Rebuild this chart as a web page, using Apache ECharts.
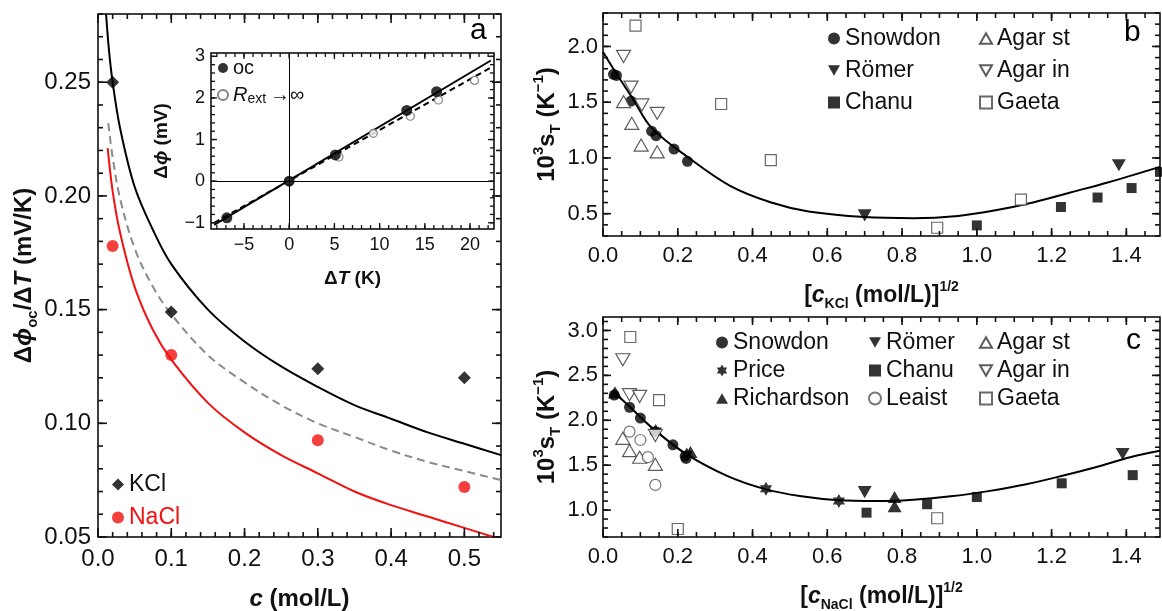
<!DOCTYPE html>
<html>
<head>
<meta charset="utf-8">
<script src="https://cdn.jsdelivr.net/npm/echarts@6/dist/echarts.min.js"></script>
<style>
  html, body { margin: 0; padding: 0; background: #fff; }
  #chart { width: 1162px; height: 611px; }
</style>
</head>
<body>
<div id="chart"></div>
<script>
// ---------- Panel a: Seebeck response vs. concentration ----------
const kclPoints  = [[0.02, 0.250], [0.1, 0.149], [0.3, 0.124], [0.5, 0.120]];
const naclPoints = [[0.02, 0.178], [0.1, 0.130], [0.3, 0.0925], [0.5, 0.072]];
const kclCurve = [[0.011, 0.280], [0.015, 0.264], [0.02, 0.250], [0.03, 0.230], [0.05, 0.204],
  [0.075, 0.185], [0.1, 0.170], [0.15, 0.150], [0.2, 0.136], [0.25, 0.125], [0.3, 0.116],
  [0.35, 0.108], [0.4, 0.102], [0.45, 0.096], [0.5, 0.091], [0.55, 0.086]];
const modelCurve = [[0.014, 0.232], [0.02, 0.217], [0.03, 0.199], [0.05, 0.177], [0.075, 0.160],
  [0.1, 0.148], [0.15, 0.130], [0.2, 0.118], [0.25, 0.108], [0.3, 0.100], [0.35, 0.094],
  [0.4, 0.088], [0.45, 0.083], [0.5, 0.079], [0.55, 0.075]];
const naclCurve = [[0.0132, 0.221], [0.02, 0.202], [0.03, 0.184], [0.05, 0.160], [0.075, 0.141],
  [0.1, 0.128], [0.15, 0.109], [0.2, 0.096], [0.25, 0.086], [0.3, 0.078], [0.35, 0.070],
  [0.4, 0.064], [0.45, 0.059], [0.5, 0.054], [0.55, 0.049]];
const aXTicks = [0, 0.1, 0.2, 0.3, 0.4, 0.5];
const aYTicks = [0.05, 0.10, 0.15, 0.20, 0.25];

// ---------- Inset: potential difference vs. temperature difference ----------
const ocPoints   = [[-6.9, -0.88], [0, 0], [5.1, 0.63], [13.0, 1.70], [16.3, 2.15]];
const rextPoints = [[0, 0], [5.5, 0.58], [9.3, 1.15], [13.4, 1.56], [16.5, 1.95], [20.5, 2.42]];
const ocLine   = [[-8.3, -1.05], [22.3, 2.90]];
const rextLine = [[-8.3, -1.00], [22.3, 2.73]];
const insetXTicks = [-5, 0, 5, 10, 15, 20];
const insetYTicks = [-1, 0, 1, 2, 3];

// ---------- Panel b: KCl Soret coefficient ----------
const snowdonB = [[0.028, 1.75], [0.036, 1.74], [0.075, 1.51], [0.13, 1.24], [0.142, 1.20], [0.19, 1.08], [0.226, 0.97]];
const romerB   = [[0.70, 0.485], [1.38, 0.935]];
const chanuB   = [[1.0, 0.395], [1.225, 0.56], [1.323, 0.645], [1.414, 0.73], [1.49, 0.875]];
const agarStB  = [[0.055, 1.505], [0.077, 1.31], [0.102, 1.115], [0.145, 1.055]];
const agarInB  = [[0.055, 1.91], [0.075, 1.635], [0.104, 1.475], [0.145, 1.40]];
const gaetaB   = [[0.087, 2.186], [0.316, 1.484], [0.449, 0.98], [0.894, 0.374], [1.118, 0.626]];
const curveB = [[0, 1.95], [0.037, 1.75], [0.08, 1.53], [0.13, 1.27], [0.23, 1.00], [0.34, 0.75],
  [0.45, 0.60], [0.55, 0.52], [0.70, 0.47], [0.83, 0.46], [0.95, 0.48], [1.05, 0.53],
  [1.15, 0.60], [1.25, 0.69], [1.35, 0.78], [1.49, 0.92]];
const bcXTicks = [0, 0.2, 0.4, 0.6, 0.8, 1.0, 1.2, 1.4];
const bYTicks = [0.5, 1.0, 1.5, 2.0];

// ---------- Panel c: NaCl Soret coefficient ----------
const snowdonC = [[0.03, 2.28], [0.071, 2.145], [0.10, 2.025], [0.14, 1.873], [0.187, 1.727], [0.22, 1.60], [0.222, 1.575]];
const priceC   = [[0.141, 1.88], [0.224, 1.62], [0.436, 1.236], [0.631, 1.10]];
const richC    = [[0.032, 2.31], [0.234, 1.647], [0.78, 1.145], [0.78, 1.044]];
const romerC   = [[0.70, 1.20], [1.39, 1.625]];
const chanuC   = [[0.705, 0.971], [0.867, 1.065], [1.0, 1.145], [1.227, 1.298], [1.417, 1.389]];
const agarStC  = [[0.053, 1.80], [0.071, 1.662], [0.098, 1.589], [0.14, 1.509]];
const agarInC  = [[0.053, 2.673], [0.071, 2.284], [0.098, 2.265], [0.14, 1.83]];
const leaistC  = [[0.071, 1.873], [0.10, 1.78], [0.12, 1.589], [0.14, 1.28]];
const gaetaC   = [[0.073, 2.927], [0.15, 2.225], [0.20, 0.789], [0.894, 0.909]];
const curveC = [[0.025, 2.33], [0.073, 2.145], [0.133, 1.91], [0.222, 1.625], [0.332, 1.38],
  [0.431, 1.236], [0.531, 1.153], [0.631, 1.109], [0.73, 1.10], [0.83, 1.116], [0.93, 1.153],
  [1.031, 1.211], [1.129, 1.284], [1.229, 1.382], [1.33, 1.491], [1.41, 1.589], [1.49, 1.66]];
const cYTicks = [1.0, 1.5, 2.0, 2.5, 3.0];

// ---------- helpers ----------
const FONT = "'Liberation Sans', Arial, Helvetica, sans-serif";
const MINUS = '\u2212';

function steps(from, to, step) {
  const out = [];
  for (let i = 0; ; i++) {
    const v = +(from + i * step).toFixed(6);
    if (v > to + 1e-9) break;
    out.push(v);
  }
  return out;
}

const titleRich = (size) => ({
  b: { fontFamily: FONT, fontWeight: 'bold', fontSize: size, color: '#111', lineHeight: size + 8 },
  i: { fontFamily: FONT, fontWeight: 'bold', fontStyle: 'italic', fontSize: size, color: '#111', lineHeight: size + 8 },
  s: { fontFamily: FONT, fontWeight: 'bold', fontSize: Math.round(size * 0.62), color: '#111', verticalAlign: 'bottom' },
  p: { fontFamily: FONT, fontWeight: 'bold', fontSize: Math.round(size * 0.62), color: '#111', verticalAlign: 'top' }
});

// plot frames are drawn as grid borders
const grids = [
  { left: 98,  top: 14,  width: 403, height: 523 },   // a
  { left: 211, top: 53,  width: 283, height: 176 },   // inset
  { left: 603, top: 13,  width: 557, height: 223 },   // b
  { left: 603, top: 317, width: 557, height: 220 }    // c
].map(g => Object.assign({ containLabel: false, outerBoundsMode: 'none', show: true,
  borderColor: '#000', borderWidth: 1.5, backgroundColor: 'transparent' }, g));

const axisSpecs = [
  {
    x: { min: 0, max: 0.55, major: aXTicks, minor: steps(0, 0.55, 0.02), fmt: v => v.toFixed(1),
         font: 24, margin: 10, len: [9, 5],
         name: '{i|c}{b| (mol/L)}', nameGap: 46, titleSize: 24 },
    y: { min: 0.05, max: 0.28, major: aYTicks, minor: steps(0.05, 0.28, 0.01), fmt: v => v.toFixed(2),
         font: 24, margin: 7, len: [9, 5],
         name: '{b|Δ}{i|ϕ}{s|oc}{b|/Δ}{i|T}{b| (mV/K)}', nameGap: 56, titleSize: 24 }
  },
  {
    x: { min: -8.65, max: 22.65, major: insetXTicks, minor: steps(-8, 22, 1),
         fmt: v => (v < 0 ? MINUS + Math.abs(v) : String(v)),
         font: 18, margin: 7, len: [6, 4],
         name: '{b|Δ}{i|T}{b| (K)}', nameGap: 36, titleSize: 19 },
    y: { min: -1.15, max: 3.08, major: insetYTicks, minor: steps(-1, 3, 0.2),
         fmt: v => (v < 0 ? MINUS + Math.abs(v) : String(v)),
         font: 18, margin: 6, len: [6, 4],
         name: '{b|Δ}{i|ϕ}{b| (mV)}', nameGap: 36, titleSize: 19 }
  },
  {
    x: { min: 0, max: 1.49, major: bcXTicks, minor: steps(0, 1.49, 0.05), fmt: v => v.toFixed(1),
         font: 22, margin: 9, len: [8, 5],
         name: '{b|[}{i|c}{s|KCl}{b| (mol/L)]}{p|1/2}', nameGap: 44, titleSize: 23 },
    y: { min: 0.3, max: 2.3, major: bYTicks, minor: steps(0.3, 2.3, 0.1), fmt: v => v.toFixed(1),
         font: 22, margin: 5, len: [8, 5],
         name: '{b|10}{p|3}{b|s}{s|T}{b| (K}{p|−1}{b|)}', nameGap: 36, titleSize: 24 }
  },
  {
    x: { min: 0, max: 1.49, major: bcXTicks, minor: steps(0, 1.49, 0.05), fmt: v => v.toFixed(1),
         font: 22, margin: 9, len: [8, 5],
         name: '{b|[}{i|c}{s|NaCl}{b| (mol/L)]}{p|1/2}', nameGap: 44, titleSize: 23 },
    y: { min: 0.7, max: 3.15, major: cYTicks, minor: steps(0.7, 3.15, 0.1), fmt: v => v.toFixed(1),
         font: 22, margin: 5, len: [8, 5],
         name: '{b|10}{p|3}{b|s}{s|T}{b| (K}{p|−1}{b|)}', nameGap: 36, titleSize: 24 }
  }
];

function makeAxis(gridIndex, r, isY) {
  return {
    type: 'value', gridIndex, position: isY ? 'left' : 'bottom', min: r.min, max: r.max,
    axisLine: { show: false, onZero: false },
    axisTick: { show: false },
    minorTick: { show: false },
    splitLine: { show: false },
    axisLabel: { show: true, customValues: r.major, formatter: r.fmt, fontSize: r.font,
                 fontFamily: FONT, color: '#111', margin: r.margin },
    name: r.name, nameLocation: 'middle', nameGap: r.nameGap, nameRotate: isY ? 90 : 0,
    nameTextStyle: { rich: titleRich(r.titleSize) },
    silent: true
  };
}

const xAxes = axisSpecs.map((s, g) => makeAxis(g, s.x, false));
const yAxes = axisSpecs.map((s, g) => makeAxis(g, s.y, true));

const ax = g => ({ xAxisIndex: g, yAxisIndex: g });

// marker shapes
const hexagram = 'path://M0,-10 L2.89,-5 L8.66,-5 L5.77,0 L8.66,5 L2.89,5 L0,10 L-2.89,5 L-8.66,5 L-5.77,0 L-8.66,-5 L-2.89,-5 Z';
const triUp   = 'path://M5,0 L10,8.66 L0,8.66 Z';
const triDown = 'path://M0,0 L10,0 L5,8.66 Z';
const filled = (symbol, size) => ({ symbol, symbolSize: size, symbolKeepAspect: true,
  itemStyle: { color: '#000', borderWidth: 0 } });
const hollow = (symbol, size, edge) => ({ symbol, symbolSize: size, symbolKeepAspect: true,
  itemStyle: { color: '#fff', borderColor: edge || '#333', borderWidth: 1.2 } });

function scatter(name, g, data, style, z) {
  return Object.assign({ type: 'scatter', name, data, z: z || 3, silent: true, clip: false, animation: false }, ax(g), style);
}
function curve(name, g, data, color, width, dash, smooth) {
  return Object.assign({ type: 'line', name, data, showSymbol: false, smooth: smooth === undefined ? 0.35 : smooth,
    lineStyle: { color, width, type: dash || 'solid' }, z: 2, silent: true, animation: false, clip: true }, ax(g));
}

const series = [
  // panel a
  curve('kclFit', 0, kclCurve, '#000', 2),
  curve('modelFit', 0, modelCurve, '#8a8a8a', 2, [8, 5]),
  curve('naclFit', 0, naclCurve, '#f21010', 2),
  scatter('KCl', 0, kclPoints, filled('diamond', 13)),
  scatter('NaCl', 0, naclPoints, { symbol: 'circle', symbolSize: 12, itemStyle: { color: '#f21010' } }),
  // inset
  curve('ocLine', 1, ocLine, '#000', 2, 'solid', false),
  curve('rextLine', 1, rextLine, '#000', 2, [6, 4], false),
  Object.assign(scatter('oc', 1, ocPoints, filled('circle', 11), 4), {
    markLine: { silent: true, symbol: ['none', 'none'], label: { show: false },
      lineStyle: { color: '#000', width: 1, type: 'solid' }, animation: false,
      data: [{ xAxis: 0 }, { yAxis: 0 }] }
  }),
  scatter('rext', 1, rextPoints, hollow('circle', 8, '#666'), 3),
  // panel b
  curve('fitB', 2, curveB, '#000', 2),
  scatter('Snowdon', 2, snowdonB, filled('circle', 11)),
  scatter('Römer', 2, romerB, filled(triDown, 14)),
  scatter('Chanu', 2, chanuB, filled('rect', 10)),
  scatter('Agar st', 2, agarStB, hollow(triUp, 14)),
  scatter('Agar in', 2, agarInB, hollow(triDown, 14)),
  scatter('Gaeta', 2, gaetaB, hollow('rect', 11, '#444')),
  // panel c
  curve('fitC', 3, curveC, '#000', 2),
  scatter('Snowdon', 3, snowdonC, filled('circle', 11)),
  scatter('Price', 3, priceC, filled(hexagram, 14)),
  scatter('Richardson', 3, richC, filled(triUp, 14)),
  scatter('Römer', 3, romerC, filled(triDown, 14)),
  scatter('Chanu', 3, chanuC, filled('rect', 10)),
  scatter('Agar st', 3, agarStC, hollow(triUp, 14)),
  scatter('Agar in', 3, agarInC, hollow(triDown, 14)),
  scatter('Leaist', 3, leaistC, hollow('circle', 11, '#555')),
  scatter('Gaeta', 3, gaetaC, hollow('rect', 11, '#444'))
];

function legendBlock(names, left, top, gap, fontSize, extra) {
  return Object.assign({
    orient: 'vertical', left, top, itemGap: gap, itemWidth: 12, itemHeight: 12,
    padding: 0, selectedMode: false,
    textStyle: { fontFamily: FONT, fontSize, color: '#111', lineHeight: fontSize + 4 },
    data: names
  }, extra || {});
}

const legends = [
  legendBlock(['KCl', { name: 'NaCl', textStyle: { color: '#f21010' } }], 112, 471, 6, 23),
  legendBlock(['oc', 'rext'], 217, 57, 5, 20, {
    itemWidth: 10, itemHeight: 10,
    formatter: n => (n === 'rext' ? '{i|R}{s|ext}{n|\u2009→∞}' : n),
    textStyle: { fontFamily: FONT, fontSize: 20, color: '#111', lineHeight: 22,
      rich: {
        i: { fontFamily: FONT, fontStyle: 'italic', fontSize: 20, color: '#111' },
        s: { fontFamily: FONT, fontSize: 14, color: '#111', verticalAlign: 'bottom' },
        n: { fontFamily: FONT, fontSize: 20, color: '#111' }
      } }
  }),
  legendBlock(['Snowdon', 'Römer', 'Chanu'], 828, 25, 5, 23),
  legendBlock(['Agar st', 'Agar in', 'Gaeta'], 979, 25, 5, 23),
  legendBlock(['Snowdon', 'Price', 'Richardson'], 716, 329, 1, 23),
  legendBlock(['Römer', 'Chanu', 'Leaist'], 868, 329, 1, 23),
  legendBlock(['Agar st', 'Agar in', 'Gaeta'], 979, 329, 1, 23)
];

const letters = [
  { text: 'a', left: 470, top: 16 },
  { text: 'b', left: 1124, top: 18 },
  { text: 'c', left: 1126, top: 326 }
].map(t => ({ type: 'text', left: t.left, top: t.top, silent: true,
  style: { text: t.text, font: '30px ' + FONT, fill: '#000' } }));

const chart = echarts.init(document.getElementById('chart'), null, { renderer: 'canvas' });
chart.setOption({
  animation: false,
  backgroundColor: '#fff',
  grid: grids,
  xAxis: xAxes,
  yAxis: yAxes,
  legend: legends,
  graphic: letters,
  series
});

// Inward frame ticks on all four sides, positioned with each grid's own axis scales.
function frameTicks() {
  const els = [];
  const seg = (p, q, w) => els.push({ type: 'line', silent: true, z: 50,
    shape: { x1: p[0], y1: p[1], x2: q[0], y2: q[1] },
    style: { stroke: '#111', lineWidth: w } });
  axisSpecs.forEach((s, g) => {
    const px = v => chart.convertToPixel({ gridIndex: g }, v);
    const X = s.x, Y = s.y;
    const w = g === 1 ? 1.3 : 1.6;
    const xt = (vals, len) => vals.forEach(v => {
      const b = px([v, Y.min]), t = px([v, Y.max]);
      seg(b, [b[0], b[1] - len], w);
      seg(t, [t[0], t[1] + len], w);
    });
    const yt = (vals, len) => vals.forEach(v => {
      const l = px([X.min, v]), r = px([X.max, v]);
      seg(l, [l[0] + len, l[1]], w);
      seg(r, [r[0] - len, r[1]], w);
    });
    xt(X.minor, X.len[1]); xt(X.major, X.len[0]);
    yt(Y.minor, Y.len[1]); yt(Y.major, Y.len[0]);
  });
  return els;
}
chart.setOption({ graphic: letters.concat(frameTicks()) });
</script>
</body>
</html>
